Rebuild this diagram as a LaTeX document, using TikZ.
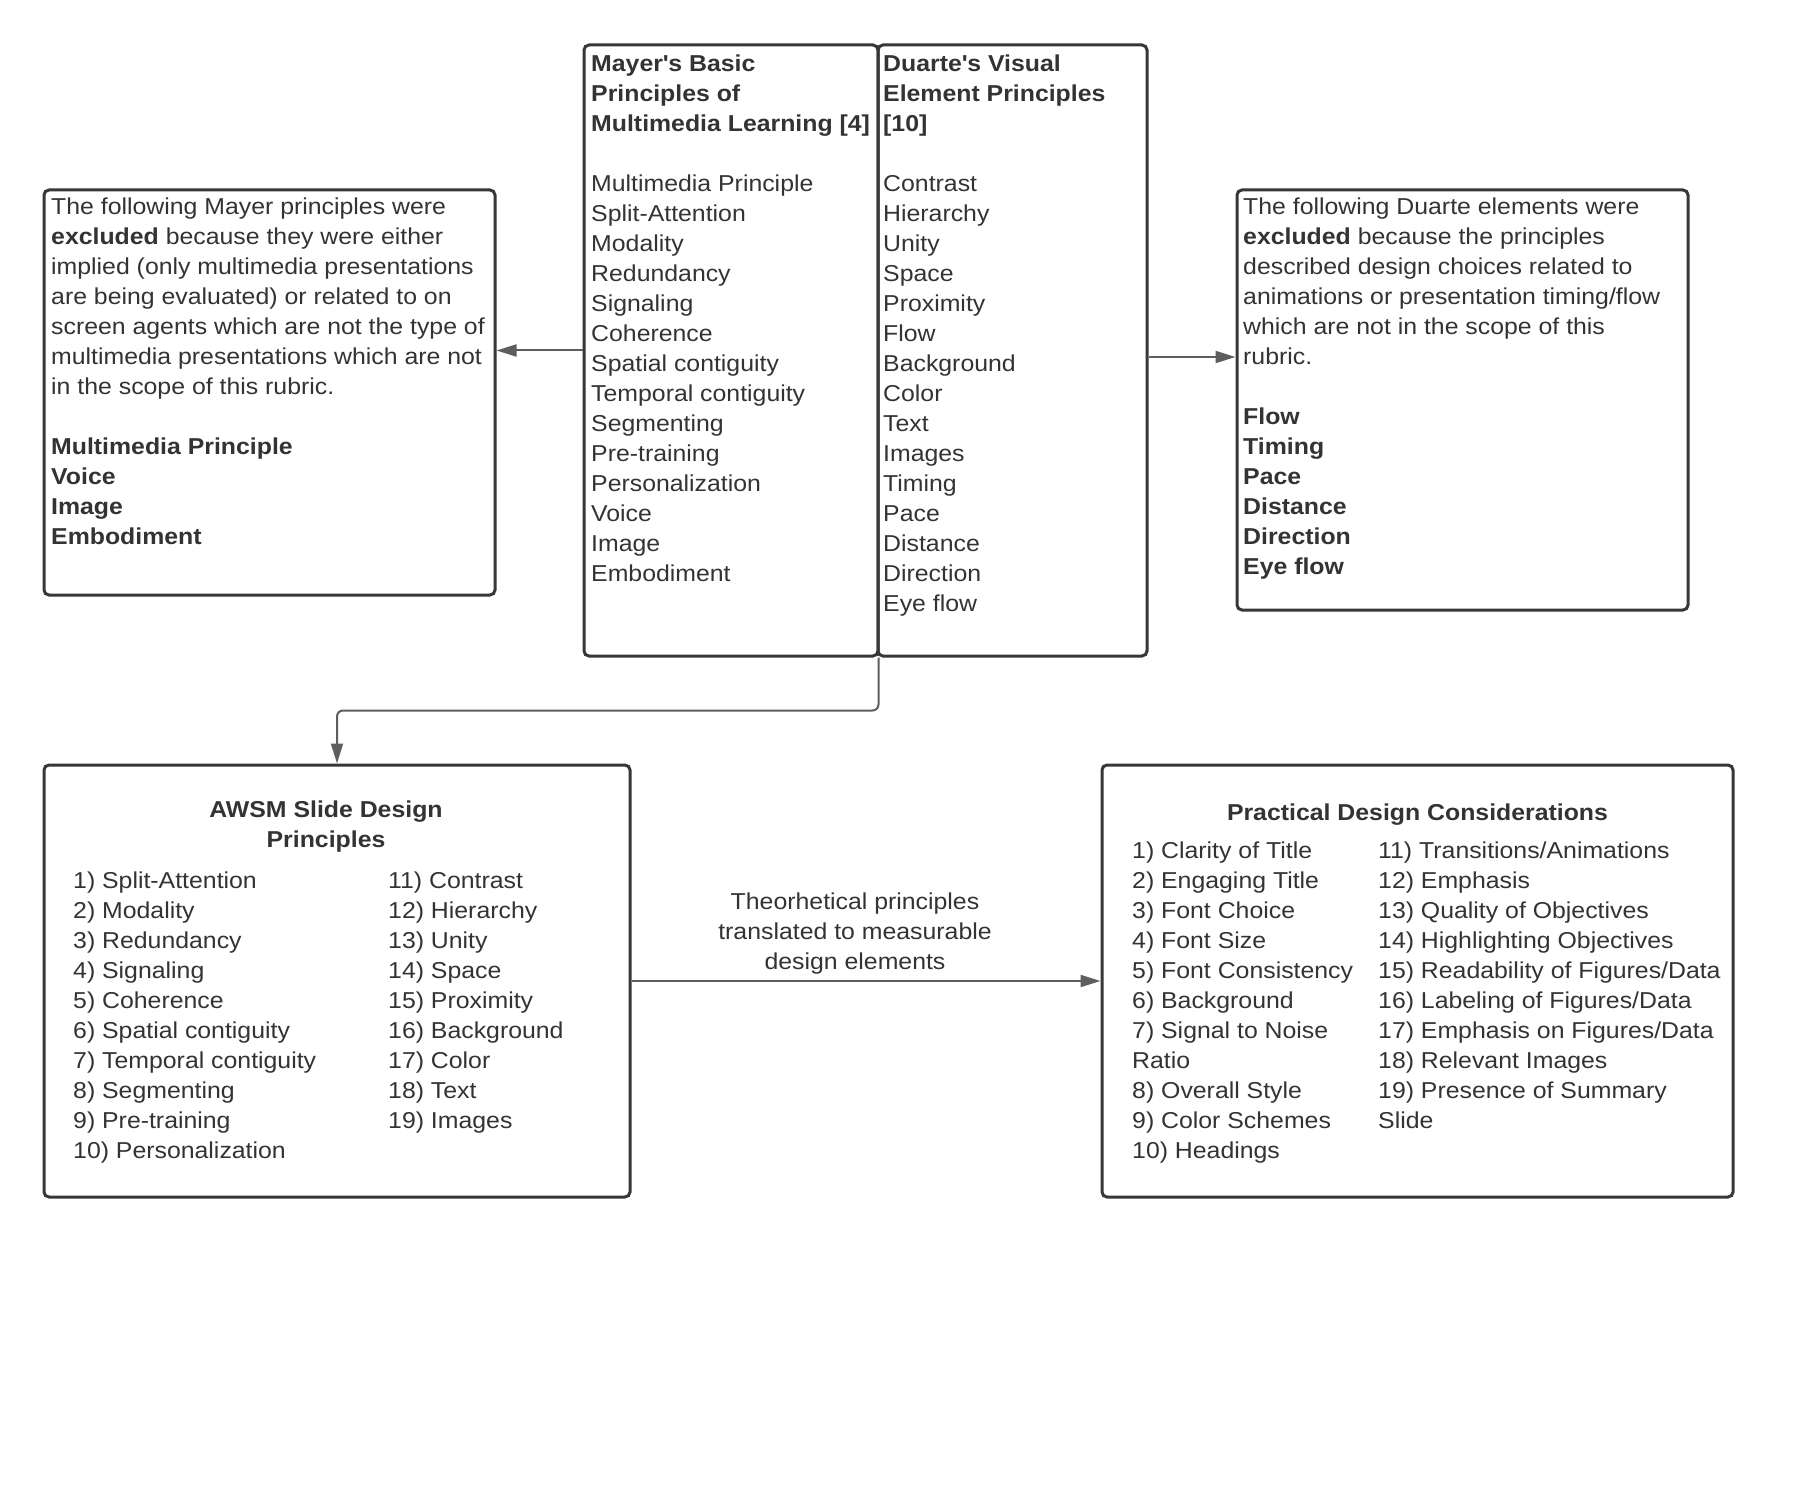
\documentclass[tikz,border=0pt]{standalone}
\usepackage{fontspec}
\setmainfont{Liberation Sans}[FakeStretch=1.08]
\usetikzlibrary{arrows.meta}
\definecolor{boxc}{HTML}{373737}
\definecolor{linec}{HTML}{5E5E5E}
\definecolor{textc}{HTML}{333333}
\newcommand{\fs}{\fontsize{23}{30}\selectfont}
\tikzset{
  box/.style={draw=boxc, line width=3pt, rounded corners=5pt, rectangle, inner sep=0pt},
  conn/.style={draw=linec, line width=2pt, -{Triangle[length=20pt,width=12pt]}},
  txt/.style={anchor=base west, inner sep=0pt, align=left, font=\fs, text=textc},
  ctxt/.style={anchor=base, inner sep=0pt, align=center, font=\fs, text=textc},
}
\begin{document}
\begin{tikzpicture}[x=1pt,y=-1pt]
\useasboundingbox[fill=white] (0,0) rectangle (1808,1495);
% boxes
\node[box, minimum width=451pt, minimum height=405pt] (leftbox) at (269.5,392.5) {};
\node[box, minimum width=294pt, minimum height=611pt] (mayer) at (731,350.5) {};
\node[box, minimum width=269pt, minimum height=611pt] (duarte) at (1012.5,350.5) {};
\node[box, minimum width=451pt, minimum height=420pt] (rightbox) at (1462.5,400) {};
\node[box, minimum width=586pt, minimum height=432pt] (awsm) at (337,981) {};
\node[box, minimum width=631pt, minimum height=432pt] (practical) at (1417.5,981) {};
% texts (anchor = baseline of the last line)
\node[txt] (mayertxt) at (591,581) {\textbf{Mayer\textquotesingle s Basic}\\ \textbf{Principles of}\\ \textbf{Multimedia Learning [4]}\\ \mbox{}\\
Multimedia Principle\\ Split-Attention\\ Modality\\ Redundancy\\ Signaling\\ Coherence\\ Spatial contiguity\\ Temporal contiguity\\ Segmenting\\ Pre-training\\ Personalization\\ Voice\\ Image\\ Embodiment};
\node[txt] (duartetxt) at (883,611) {\textbf{Duarte\textquotesingle s Visual}\\ \textbf{Element Principles}\\ \textbf{[10]}\\ \mbox{}\\
Contrast\\ Hierarchy\\ Unity\\ Space\\ Proximity\\ Flow\\ Background\\ Color\\ Text\\ Images\\ Timing\\ Pace\\ Distance\\ Direction\\ Eye flow};
\node[txt] (lefttxt) at (51,544) {The following Mayer principles were\\ \textbf{excluded} because they were either\\ implied (only multimedia presentations\\ are being evaluated) or related to on\\ screen agents which are not the type of\\ multimedia presentations which are not\\ in the scope of this rubric.\\ \mbox{}\\
\textbf{Multimedia Principle}\\ \textbf{Voice}\\ \textbf{Image}\\ \textbf{Embodiment}};
\node[txt] (righttxt) at (1243,574) {The following Duarte elements were\\ \textbf{excluded} because the principles\\ described design choices related to\\ animations or presentation timing/flow\\ which are not in the scope of this\\ rubric.\\ \mbox{}\\
\textbf{Flow}\\ \textbf{Timing}\\ \textbf{Pace}\\ \textbf{Distance}\\ \textbf{Direction}\\ \textbf{Eye flow}};
\node[ctxt] (awsmtitle) at (326,847) {\textbf{AWSM Slide Design}\\ \textbf{Principles}};
\node[txt] (awsmA) at (73,1158) {1) Split-Attention\\ 2) Modality\\ 3) Redundancy\\ 4) Signaling\\ 5) Coherence\\ 6) Spatial contiguity\\ 7) Temporal contiguity\\ 8) Segmenting\\ 9) Pre-training\\ 10) Personalization};
\node[txt] (awsmB) at (388,1128) {11) Contrast\\ 12) Hierarchy\\ 13) Unity\\ 14) Space\\ 15) Proximity\\ 16) Background\\ 17) Color\\ 18) Text\\ 19) Images};
\node[ctxt] (practitle) at (1417.5,820) {\textbf{Practical Design Considerations}};
\node[txt] (pracA) at (1132,1158) {1) Clarity of Title\\ 2) Engaging Title\\ 3) Font Choice\\ 4) Font Size\\ 5) Font Consistency\\ 6) Background\\ 7) Signal to Noise\\ Ratio\\ 8) Overall Style\\ 9) Color Schemes\\ 10) Headings};
\node[txt] (pracB) at (1378,1128) {11) Transitions/Animations\\ 12) Emphasis\\ 13) Quality of Objectives\\ 14) Highlighting Objectives\\ 15) Readability of Figures/Data\\ 16) Labeling of Figures/Data\\ 17) Emphasis on Figures/Data\\ 18) Relevant Images\\ 19) Presence of Summary\\ Slide};
\node[ctxt] (label) at (855,969) {Theorhetical principles\\ translated to measurable\\ design elements};
% connectors
\draw[conn] (mayer.west) -- (mayer.west -| leftbox.east);
\draw[conn] ([yshift=-6.5pt]duarte.east) -- ([yshift=-6.5pt]duarte.east -| rightbox.west);
\draw[conn] (awsm.east) -- (practical.west);
\draw[conn, rounded corners=6pt] ([xshift=2pt]duarte.south west) -- ++(0,53) -| (awsm.north);
\end{tikzpicture}
\end{document}
